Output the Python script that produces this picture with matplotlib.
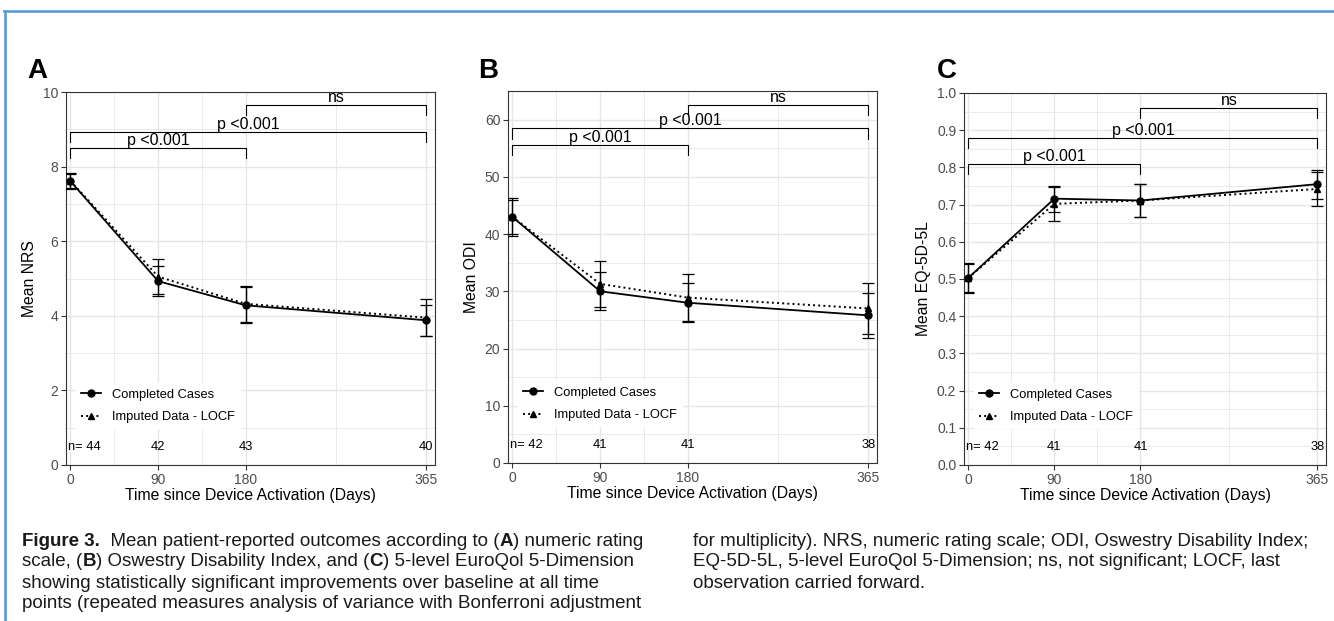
import numpy as np
import matplotlib.pyplot as plt
from matplotlib.lines import Line2D
from matplotlib.ticker import FormatStrFormatter, FixedLocator

plt.rcParams['font.family'] = ['Liberation Sans', 'DejaVu Sans']

# ---- data ----
days = [0, 90, 180, 365]

nrs_cc = [7.61, 4.93, 4.28, 3.88]
nrs_cc_err = [0.20, 0.40, 0.48, 0.42]
nrs_imp = [7.62, 5.05, 4.32, 3.95]
nrs_imp_err = [0.20, 0.47, 0.49, 0.50]
nrs_n = [44, 42, 43, 40]

odi_cc = [43.0, 30.0, 28.0, 25.8]
odi_cc_err = [2.9, 3.3, 3.4, 3.9]
odi_imp = [43.0, 31.3, 28.9, 27.0]
odi_imp_err = [3.3, 4.0, 4.1, 4.45]
odi_n = [42, 41, 41, 38]

eq_cc = [0.503, 0.716, 0.711, 0.755]
eq_cc_err = [0.038, 0.035, 0.044, 0.039]
eq_imp = [0.503, 0.702, 0.711, 0.742]
eq_imp_err = [0.041, 0.045, 0.045, 0.046]
eq_n = [42, 41, 41, 38]

comparisons = [(0, 180, 'p <0.001'), (0, 365, 'p <0.001'), (180, 365, 'ns')]
legend_labels = ['Completed Cases', 'Imputed Data - LOCF']
xlabel = 'Time since Device Activation (Days)'

W, H = 1334, 621
fig = plt.figure(figsize=(W / 100, H / 100), dpi=100)
fig.patch.set_facecolor('white')

GRID = '#e6e6e6'
DARK = '#333333'

panels = [
    dict(letter='A', lx=27, box=(66, 92, 435, 465), cc=nrs_cc, cce=nrs_cc_err,
         imp=nrs_imp, impe=nrs_imp_err, n=nrs_n, ylab='Mean NRS',
         ylim=10, yt=np.arange(0, 11, 2), ym=np.arange(1, 10, 2), fmt='%d',
         br=[8.5, 8.94, 9.66]),
    dict(letter='B', lx=478, box=(508, 91, 877, 463), cc=odi_cc, cce=odi_cc_err,
         imp=odi_imp, impe=odi_imp_err, n=odi_n, ylab='Mean ODI',
         ylim=65, yt=np.arange(0, 61, 10), ym=np.arange(5, 66, 10), fmt='%d',
         br=[55.6, 58.5, 62.6]),
    dict(letter='C', lx=937, box=(964, 93, 1326, 465), cc=eq_cc, cce=eq_cc_err,
         imp=eq_imp, impe=eq_imp_err, n=eq_n, ylab='Mean EQ-5D-5L',
         ylim=1.0, yt=np.arange(0, 1.01, 0.1), ym=np.arange(0.05, 1.0, 0.1), fmt='%.1f',
         br=[0.81, 0.879, 0.96]),
]

for p in panels:
    l, t, r, b = p['box']
    ax = fig.add_axes([l / W, 1 - b / H, (r - l) / W, (b - t) / H])
    ymax = p['ylim']

    ax.errorbar(days, p['cc'], yerr=p['cce'], fmt='none', ecolor='black',
                elinewidth=0.9, capsize=4.5, capthick=0.9, zorder=3)
    ax.errorbar(days, p['imp'], yerr=p['impe'], fmt='none', ecolor='black',
                elinewidth=0.9, capsize=4.5, capthick=0.9, zorder=3)
    h1, = ax.plot(days, p['cc'], '-', color='black', lw=1.3, marker='o', ms=5, zorder=4)
    h2, = ax.plot(days, p['imp'], ':', color='black', lw=1.4, marker='^', ms=5, zorder=4)

    ax.set_xlim(-4.5, 374)
    ax.set_ylim(0, ymax)
    ax.set_xticks(days)
    ax.xaxis.set_minor_locator(FixedLocator([45, 135, 272.5]))
    ax.set_yticks(p['yt'])
    ax.yaxis.set_minor_locator(FixedLocator(p['ym']))
    ax.yaxis.set_major_formatter(FormatStrFormatter(p['fmt']))
    ax.grid(which='major', color=GRID, lw=1.0)
    ax.grid(which='minor', color=GRID, lw=0.6)
    ax.set_axisbelow(True)
    ax.tick_params(which='major', length=3.5, width=0.8, color=DARK,
                   labelcolor='#4d4d4d', labelsize=10, pad=2)
    ax.tick_params(which='minor', length=0)
    for s in ax.spines.values():
        s.set_color(DARK)
        s.set_linewidth(0.8)

    ax.set_xlabel(xlabel, fontsize=11.3, labelpad=1)
    ax.set_ylabel(p['ylab'], fontsize=11.3, labelpad=4)

    # significance brackets
    drop = 0.028 * ymax
    for (x1, x2, lab), yb in zip(comparisons, p['br']):
        ax.plot([x1, x1, x2, x2], [yb - drop, yb, yb, yb - drop], color='black',
                lw=0.8, clip_on=False, zorder=5)
        ax.text((x1 + x2) / 2, yb, lab, ha='center', va='bottom', fontsize=11.5,
                clip_on=False, zorder=6)

    # number at risk
    tr = ax.get_xaxis_transform()
    for i, (d, n) in enumerate(zip(days, p['n'])):
        if i == 0:
            ax.text(-2.5, 0.049, 'n= %d' % n, transform=tr, ha='left', va='center', fontsize=9.3)
        else:
            ax.text(d, 0.049, str(n), transform=tr, ha='center', va='center', fontsize=9.3)

    # legend
    wpx, hpx = r - l, b - t
    ax.legend([h1, h2], legend_labels, loc='lower left',
              bbox_to_anchor=(10.3 / wpx, 36.8 / hpx), borderaxespad=0,
              fontsize=9.3, frameon=True, facecolor='white', edgecolor='white',
              framealpha=1, fancybox=False, borderpad=0.4, handlelength=1.55,
              handletextpad=0.78, labelspacing=0.8)

    fig.text(p['lx'] / W, 1 - 78 / H, p['letter'], fontsize=20, fontweight='bold',
             ha='left', va='baseline')

# blue frame (top and left)
fig.add_artist(Line2D([4.5 / W, 4.5 / W], [0, 1 - 11.3 / H], color='#5b9bd5', lw=1.9))
fig.add_artist(Line2D([3.5 / W, 1], [1 - 11.3 / H, 1 - 11.3 / H], color='#5b9bd5', lw=1.9))

# caption with bold fragments
renderer = fig.canvas.get_renderer()
CAP = 13.5


def seg_width(s, bold):
    w = 'bold' if bold else 'normal'
    t1 = fig.text(0, 0, '|' + s + '|', fontsize=CAP, fontweight=w)
    t2 = fig.text(0, 0, '||', fontsize=CAP, fontweight=w)
    wd = t1.get_window_extent(renderer).width - t2.get_window_extent(renderer).width
    t1.remove()
    t2.remove()
    return wd


def rich_line(x, y, parts):
    for s, bold in parts:
        fig.text(x / W, 1 - y / H, s, fontsize=CAP, fontweight='bold' if bold else 'normal',
                 ha='left', va='center', color='#1a1a1a')
        x += seg_width(s, bold)


left_lines = [
    [('Figure 3.', True), ('  Mean patient-reported outcomes according to (', False),
     ('A', True), (') numeric rating', False)],
    [('scale, (', False), ('B', True), (') Oswestry Disability Index, and (', False),
     ('C', True), (') 5-level EuroQol 5-Dimension', False)],
    [('showing statistically significant improvements over baseline at all time', False)],
    [('points (repeated measures analysis of variance with Bonferroni adjustment', False)],
]
right_lines = [
    [('for multiplicity). NRS, numeric rating scale; ODI, Oswestry Disability Index;', False)],
    [('EQ-5D-5L, 5-level EuroQol 5-Dimension; ns, not significant; LOCF, last', False)],
    [('observation carried forward.', False)],
]
for i, parts in enumerate(left_lines):
    rich_line(22, 541 + 21 * i, parts)
for i, parts in enumerate(right_lines):
    rich_line(693, 541 + 21 * i, parts)

fig.savefig('out.png', dpi=100)
